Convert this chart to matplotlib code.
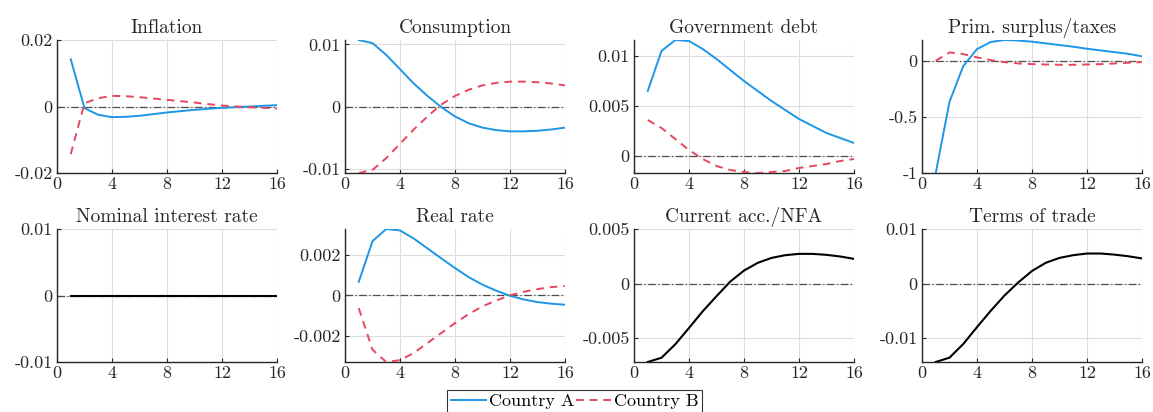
import numpy as np
import matplotlib
matplotlib.use("Agg")
import matplotlib.pyplot as plt

plt.rcParams['font.family'] = ['cmr10', 'DejaVu Serif']
plt.rcParams['axes.unicode_minus'] = False
plt.rcParams['axes.formatter.use_mathtext'] = True

t = np.arange(1, 17)

# impulse responses, country A / country B
infl_a = [0.0142, -0.0005, -0.0025, -0.0032, -0.0031, -0.0028, -0.0023, -0.0018,
          -0.0014, -0.0010, -0.0007, -0.0004, -0.0002, 0.0000, 0.0002, 0.0004]
infl_b = [-0.0143, 0.0010, 0.0025, 0.0032, 0.0031, 0.0028, 0.0024, 0.0020,
          0.0016, 0.0012, 0.0007, 0.0003, 0.0000, -0.0002, -0.0004, -0.0006]

cons_a = [0.0107, 0.0102, 0.0083, 0.0060, 0.0037, 0.0017, -0.0001, -0.0016,
          -0.0027, -0.0034, -0.0038, -0.0040, -0.0040, -0.0039, -0.0037, -0.0034]
cons_b = [-0.0107, -0.0102, -0.0083, -0.0060, -0.0037, -0.0016, 0.0003, 0.0017,
          0.0027, 0.0034, 0.0038, 0.0040, 0.0040, 0.0039, 0.0037, 0.0034]

debt_a = [0.0065, 0.0105, 0.0116, 0.0115, 0.0107, 0.0097, 0.0086, 0.0075,
          0.0065, 0.0055, 0.0046, 0.0037, 0.0030, 0.0023, 0.0018, 0.0013]
debt_b = [0.0036, 0.0028, 0.0017, 0.0006, -0.0003, -0.0010, -0.0014, -0.0016,
          -0.0017, -0.0016, -0.0015, -0.0012, -0.0010, -0.0008, -0.0005, -0.0003]

surp_a = [-1.0, -0.366, -0.048, 0.104, 0.167, 0.185, 0.180, 0.170,
          0.155, 0.140, 0.125, 0.107, 0.092, 0.077, 0.062, 0.039]
surp_b = [0.0, 0.074, 0.060, 0.030, 0.006, -0.012, -0.024, -0.030,
          -0.033, -0.036, -0.036, -0.033, -0.030, -0.024, -0.018, -0.012]

nom_rate = [0.0] * 16

real_a = [0.00067, 0.00268, 0.00328, 0.00321, 0.00281, 0.00232, 0.00183, 0.00135,
          0.00090, 0.00053, 0.00023, -0.00002, -0.00020, -0.00033, -0.00041, -0.00046]
real_b = [-0.00063, -0.00268, -0.00329, -0.00320, -0.00285, -0.00235, -0.00186, -0.00137,
          -0.00092, -0.00054, -0.00025, 0.0, 0.00018, 0.00031, 0.00041, 0.00046]

nfa = [-0.00719, -0.0068, -0.00557, -0.00407, -0.00254, -0.00116, 0.00018, 0.00119,
       0.0019, 0.00235, 0.0026, 0.00272, 0.00272, 0.00263, 0.00248, 0.00226]

tot = [-0.0144, -0.0136, -0.0111, -0.0080, -0.0050, -0.0022, 0.0002, 0.0023,
       0.0038, 0.0047, 0.0052, 0.0055, 0.0055, 0.0053, 0.0050, 0.0046]

titles = ["Inflation", "Consumption", "Government debt", "Prim. surplus/taxes",
          "Nominal interest rate", "Real rate", "Current acc./NFA", "Terms of trade"]
yticks = [[-0.02, 0, 0.02], [-0.01, 0, 0.01], [0, 0.005, 0.01], [-1, -0.5, 0],
          [-0.01, 0, 0.01], [-0.002, 0, 0.002], [-0.005, 0, 0.005], [-0.01, 0, 0.01]]

blue = '#1E96E6'
red = '#E4475F'

W, H = 1153, 412
fig = plt.figure(figsize=(W / 100, H / 100), dpi=100)
lefts = [57, 345, 634, 922]
tops = [40, 229]
aw, ah = 220, 133

pairs = [(infl_a, infl_b), (cons_a, cons_b), (debt_a, debt_b), (surp_a, surp_b),
         None, (real_a, real_b), None, None]
blacks = [None, None, None, None, nom_rate, None, nfa, tot]

def fmt(v):
    if v == 0:
        return "0"
    return "%g" % v

for i in range(8):
    r, c = divmod(i, 4)
    ax = fig.add_axes([lefts[c] / W, 1 - (tops[r] + ah) / H, aw / W, ah / H])
    ax.axhline(0, color='#4d4d4d', lw=0.9, ls=(0, (6, 2, 1, 2)), zorder=1)
    if pairs[i] is not None:
        ya, yb = pairs[i]
        la, = ax.plot(t, ya, color=blue, lw=1.4, zorder=3)
        lb, = ax.plot(t, yb, color=red, lw=1.4, ls=(0, (4, 3)), zorder=3)
        # tight y-limits
        ax.set_ylim(min(min(ya), min(yb)), max(max(ya), max(yb)))
        if i == 0:
            handles = (la, lb)
            ax.set_ylim(-0.02, 0.02)
    else:
        y = blacks[i]
        ax.plot(t, y, color='black', lw=1.5, zorder=3)
        if i == 4:
            ax.set_ylim(-0.01, 0.01)
        elif i == 6:
            ax.set_ylim(min(y), 0.005)
        else:
            ax.set_ylim(min(y), 0.01)
    ax.set_xlim(0, 16)
    ax.set_xticks([0, 4, 8, 12, 16])
    ax.set_xticklabels(["0", "4", "8", "12", "16"])
    ax.set_yticks(yticks[i])
    ax.set_yticklabels([fmt(v) for v in yticks[i]])
    ax.grid(True, color='#dcdcdc', lw=0.8)
    ax.set_axisbelow(True)
    for s in ['top', 'right']:
        ax.spines[s].set_visible(False)
    for s in ['left', 'bottom']:
        ax.spines[s].set_color('#262626')
        ax.spines[s].set_linewidth(1.0)
    ax.tick_params(direction='in', length=3, width=0.8, labelsize=13,
                   colors='#262626', pad=3)
    ax.set_title(titles[i], fontsize=14, color='#262626', pad=5)

leg = fig.legend(handles, ["Country A", "Country B"], ncol=2,
                 loc='upper left', bbox_to_anchor=(447 / W, 1 - 390 / H),
                 fontsize=13, frameon=True, fancybox=False, edgecolor='black',
                 handlelength=1.95, handletextpad=0.15, columnspacing=0.1,
                 borderpad=0.2, borderaxespad=0)
leg.get_frame().set_linewidth(0.8)

fig.savefig("out.png", dpi=100)
